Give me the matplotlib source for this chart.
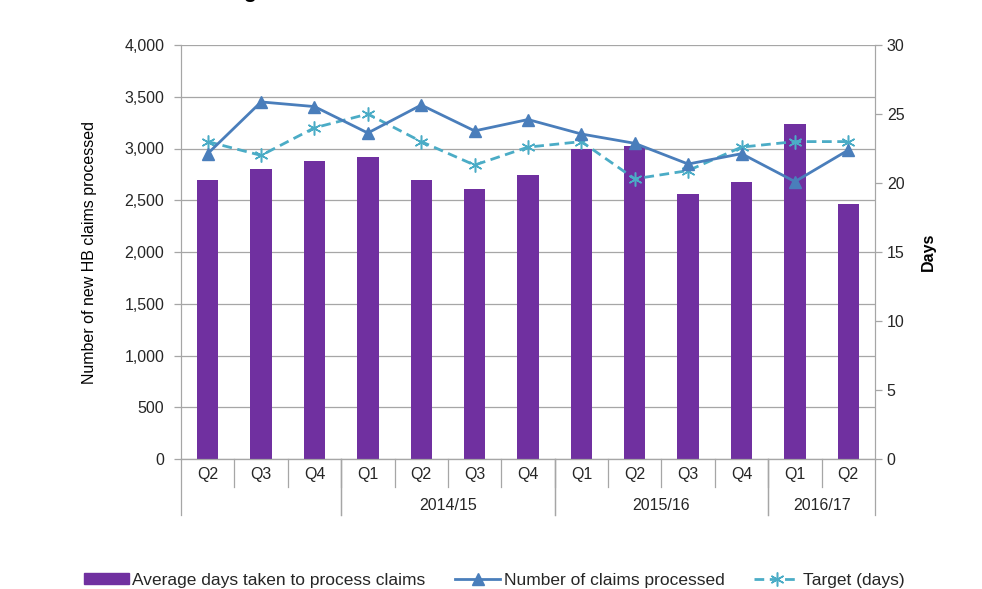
import matplotlib

matplotlib.use("Agg")
import matplotlib.pyplot as plt
from matplotlib.lines import Line2D
from matplotlib.patches import Patch
from matplotlib.ticker import FuncFormatter

plt.rcParams["font.family"] = ["Liberation Sans", "DejaVu Sans"]

quarters = ["Q2", "Q3", "Q4", "Q1", "Q2", "Q3", "Q4", "Q1", "Q2", "Q3", "Q4", "Q1", "Q2"]
years = [("", 0, 2), ("2014/15", 3, 6), ("2015/16", 7, 10), ("2016/17", 11, 12)]

avg_days = [20.2, 21.0, 21.6, 21.9, 20.2, 19.6, 20.6, 22.5, 22.7, 19.2, 20.1, 24.3, 18.5]
claims = [2950, 3450, 3405, 3150, 3420, 3170, 3280, 3140, 3050, 2850, 2950, 2680, 2985]
target = [23.0, 22.0, 24.0, 25.0, 23.0, 21.3, 22.6, 23.0, 20.3, 20.9, 22.6, 23.0, 23.0]

PURPLE = "#7030A0"
BLUE = "#4A7EBB"
CYAN = "#4BACC6"
GREY = "#A6A6A6"
TXT = "#262626"
FS = 11.5

fig = plt.figure(figsize=(9.82, 5.89), dpi=100)
W, H = 982, 589
ax = fig.add_axes([181 / W, 1 - 459 / H, 694 / W, 414 / H])
axr = ax.twinx()
axc = ax.twinx()

x = list(range(len(quarters)))

# left axis: grid only, bottom layer
ax.set_ylim(0, 4000)
ax.set_yticks(range(0, 4001, 500))
ax.yaxis.set_major_formatter(FuncFormatter(lambda v, p: f"{v:,.0f}"))
ax.grid(axis="y", color=GREY, linewidth=0.9)
ax.set_axisbelow(True)
ax.set_xticks([])
ax.set_ylabel("Number of new HB claims processed", fontsize=11.5, color="black")
ax.yaxis.set_label_coords(-0.121, 0.5)

# right axis: bars (days) and target
axr.bar(x, avg_days, width=0.4, color=PURPLE, zorder=2)
axr.plot(x, target, color=CYAN, linewidth=2, linestyle=(0, (3.5, 2)),
         marker=(6, 2, 0), markersize=10, markeredgewidth=1.1, zorder=3)
axr.set_ylim(0, 30)
axr.set_yticks(range(0, 31, 5))
axr.set_ylabel("Days", fontsize=11.5, fontweight="bold", color="black")
axr.yaxis.set_label_coords(1.066, 0.5)

# claims line on top
axc.plot(x, claims, color=BLUE, linewidth=2, marker="^", markersize=8, zorder=4)
axc.set_ylim(0, 4000)
axc.set_yticks([])

for a in (ax, axr, axc):
    a.set_xlim(-0.5, len(quarters) - 0.5)
    a.patch.set_visible(False)
    a.spines["top"].set_visible(False)
    for s in ("left", "right", "bottom"):
        a.spines[s].set_color(GREY)
    a.tick_params(axis="y", colors=GREY, labelcolor=TXT, labelsize=FS, length=5, width=0.9)
ax.tick_params(axis="y", pad=7)
axc.spines["left"].set_visible(False)
axc.spines["right"].set_visible(False)

# two-level category axis
tr = ax.get_xaxis_transform()
qh = 28 / 414
yh = 56 / 414
for i, q in enumerate(quarters):
    ax.text(i, -15 / 414, q, transform=tr, ha="center", va="center", fontsize=FS, color=TXT)
    if i < len(quarters) - 1:
        ax.plot([i + 0.5, i + 0.5], [0, -qh], transform=tr, color=GREY, lw=0.9, clip_on=False)
for label, a0, a1 in years:
    ax.text((a0 + a1) / 2, -46 / 414, label, transform=tr, ha="center", va="center",
            fontsize=FS, color=TXT)
    for b in (a0 - 0.5, a1 + 0.5):
        ax.plot([b, b], [0, -yh], transform=tr, color=GREY, lw=0.9, clip_on=False)

handles = [
    Patch(facecolor=PURPLE, edgecolor=PURPLE),
    Line2D([], [], color=BLUE, linewidth=2, marker="^", markersize=8),
    Line2D([], [], color=CYAN, linewidth=2, linestyle=(0, (3.5, 2)), marker=(6, 2, 0),
           markersize=10, markeredgewidth=1.1),
]
labels = ["Average days taken to process claims", "Number of claims processed", "Target (days)"]
fig.legend(handles, labels, loc="center", bbox_to_anchor=(0.503, 1 - 580 / H), ncol=3,
           frameon=False, fontsize=12.5, handlelength=2.6, handleheight=0.55,
           handletextpad=0.2, columnspacing=1.7, labelcolor=TXT)

# title cut off at the top edge of the source image
fig.text(250 / W, 1 + 1.5 / H, "g", fontsize=15, fontweight="bold", ha="center",
         va="baseline", color="black")

fig.savefig("out.png", dpi=100)
